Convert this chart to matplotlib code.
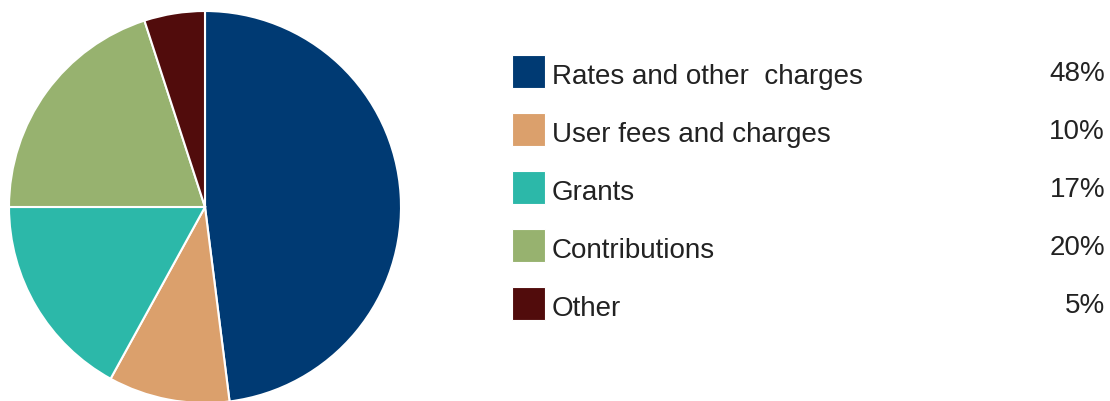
import matplotlib.pyplot as plt
from matplotlib.patches import Rectangle

# Дані
labels = ['Rates and other  charges', 'User fees and charges', 'Grants', 'Contributions', 'Other']
values = [48, 10, 17, 20, 5]
pct_labels = ['48%', '10%', '17%', '20%', '5%']
colors = ['#003A73', '#DBA06C', '#2CB8A9', '#97B26F', '#510C0C']

W, H = 1110, 401
fig = plt.figure(figsize=(W / 100, H / 100), dpi=100)

# Кругова діаграма
cx, cy, r = 205, 207, 196
ax = fig.add_axes([(cx - r) / W, (H - cy - r) / H, 2 * r / W, 2 * r / H])
ax.pie(values, colors=colors, startangle=90, counterclock=False,
       wedgeprops=dict(edgecolor='white', linewidth=1.5))
ax.set_xlim(-1, 1)
ax.set_ylim(-1, 1)
ax.set_aspect('equal')
ax.axis('off')

# Легенда вручну
for i, (lab, pct, col) in enumerate(zip(labels, pct_labels, colors)):
    y = 72 + i * 58
    fig.patches.append(Rectangle((512 / W, (H - y - 16) / H), 33 / W, 33 / H,
                                 transform=fig.transFigure, facecolor=col,
                                 edgecolor='white', linewidth=0.8))
    fig.text(552 / W, (H - y - 5) / H, lab, fontsize=20, family='Liberation Sans',
             color='#222222', va='center', ha='left')
    fig.text(1105 / W, (H - y - 2) / H, pct, fontsize=20, family='Liberation Sans',
             color='#222222', va='center', ha='right')

plt.savefig('out.png', dpi=100)
